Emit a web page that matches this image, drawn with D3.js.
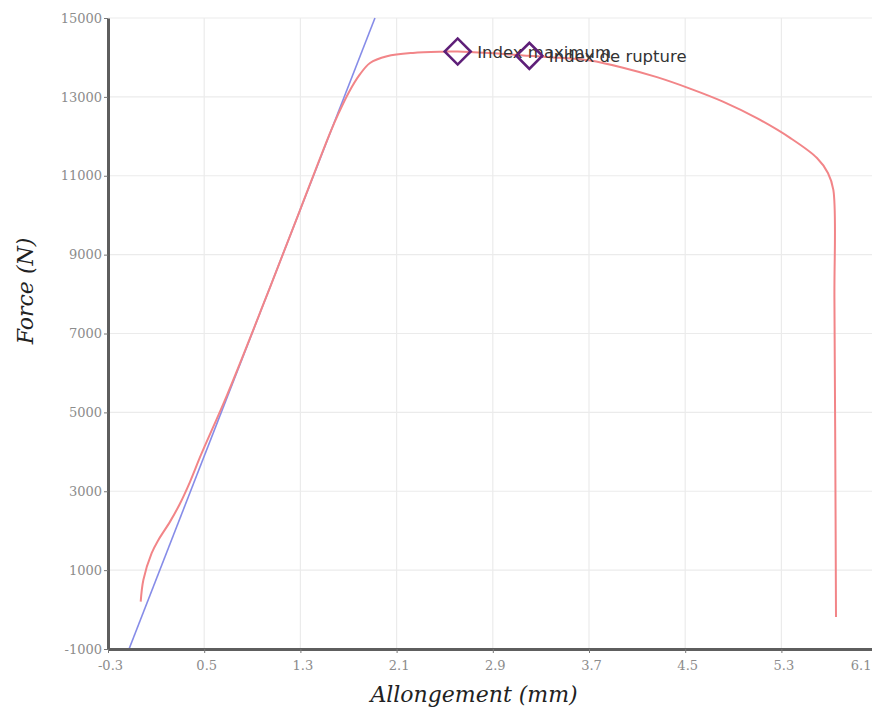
<!DOCTYPE html>
<html>
<head>
<meta charset="utf-8">
<script src="https://cdn.jsdelivr.net/npm/d3@7"></script>
<style>
  html, body { margin: 0; padding: 0; background: #ffffff; }
  svg { display: block; }
</style>
</head>
<body>
<svg id="chart" width="872" height="708"></svg>
<script>
// Tensile test: force vs elongation, with the linear (elastic) fit
const xTicks = [-0.3, 0.5, 1.3, 2.1, 2.9, 3.7, 4.5, 5.3, 6.1];
const yTicks = [-1000, 1000, 3000, 5000, 7000, 9000, 11000, 13000, 15000];

// measured curve (mm, N)
const elongation = [-0.028, -0.006, 0.063, 0.118, 0.216, 0.299, 0.382, 0.473, 0.690, 1.006,
  1.297, 1.546, 1.620, 1.700, 1.790, 1.879, 2.020, 2.236, 2.502, 2.608,
  2.877, 3.204, 3.459, 3.708, 3.983, 4.265, 4.540, 4.814, 5.096, 5.372,
  5.596, 5.687, 5.732, 5.741, 5.748, 5.754];
const force = [200, 750, 1430, 1760, 2230, 2690, 3240, 3920, 5440, 7850,
  10130, 12080, 12600, 13100, 13550, 13860, 14030, 14115, 14145, 14150,
  14110, 14040, 13990, 13920, 13740, 13500, 13210, 12880, 12460, 11960,
  11450, 11070, 10640, 7850, 4050, -190];

// elastic slope line
const fitElongation = [-0.125, 1.92];
const fitForce = [-1000, 15000];

// marked points
const markerNames = ["Index maximum", "Index de rupture"];
const markerElongation = [2.608, 3.204];
const markerForce = [14150, 14040];

const W = 872, H = 708;
const plotLeft = 108, plotTop = 18, plotBottom = 649;
const plotRight = 108 + 8 * 96.2;

const svg = d3.select("#chart");
const x = d3.scaleLinear().domain([-0.3, 6.1]).range([plotLeft, plotRight]);
const y = d3.scaleLinear().domain([-1000, 15000]).range([plotBottom, plotTop]);

// grid
const grid = svg.append("g").attr("stroke", "#ebebeb").attr("stroke-width", 1.2);
grid.selectAll("line.v").data(xTicks.slice(1)).join("line")
  .attr("x1", d => x(d)).attr("x2", d => x(d))
  .attr("y1", plotTop).attr("y2", plotBottom);
grid.selectAll("line.h").data(yTicks.slice(1)).join("line")
  .attr("x1", plotLeft).attr("x2", W)
  .attr("y1", d => y(d)).attr("y2", d => y(d));

svg.append("clipPath").attr("id", "plot")
  .append("rect").attr("x", plotLeft).attr("y", plotTop - 1)
  .attr("width", W - plotLeft).attr("height", plotBottom - plotTop + 1);

// elastic fit line
svg.append("path")
  .attr("clip-path", "url(#plot)")
  .datum(fitElongation.map((d, i) => [d, fitForce[i]]))
  .attr("fill", "none")
  .attr("stroke", "#868ce8")
  .attr("stroke-width", 1.6)
  .attr("d", d3.line().x(d => x(d[0])).y(d => y(d[1])));

// force curve
svg.append("path")
  .datum(elongation.map((d, i) => [d, force[i]]))
  .attr("fill", "none")
  .attr("stroke", "#f28588")
  .attr("stroke-width", 2)
  .attr("d", d3.line().x(d => x(d[0])).y(d => y(d[1])).curve(d3.curveCatmullRom.alpha(0.5)));

// axes
const yAxis = d3.axisLeft(y).tickValues(yTicks).tickFormat(d => String(d))
  .tickSize(4).tickSizeOuter(0).tickPadding(2);
const xAxis = d3.axisBottom(x).tickValues(xTicks).tickFormat(d => String(d))
  .tickSize(4).tickSizeOuter(0).tickPadding(8);

const gy = svg.append("g").attr("transform", `translate(${plotLeft},0)`).call(yAxis);
const gx = svg.append("g").attr("transform", `translate(0,${plotBottom})`).call(xAxis);

[gx, gy].forEach(g => {
  g.select(".domain").attr("stroke", "#5e5e5e").attr("stroke-width", 3);
  g.selectAll(".tick line").attr("stroke", "#777").attr("stroke-width", 1);
  g.selectAll(".tick text")
    .attr("fill", "#8c8c8c")
    .style("font-family", "'DejaVu Serif', serif")
    .style("font-size", "13px");
});
gx.selectAll(".tick text").attr("dx", 2);
// keep the last x label inside the canvas
gx.selectAll(".tick").filter(d => d === xTicks[xTicks.length - 1])
  .select("text").attr("text-anchor", "end").attr("dx", 0)
  .attr("x", W - 1 - x(xTicks[xTicks.length - 1]));

// markers
const mk = svg.append("g");
markerNames.forEach((name, i) => {
  const cx = x(markerElongation[i]), cy = y(markerForce[i]);
  mk.append("path")
    .attr("d", d3.symbol(d3.symbolSquare, 338)())
    .attr("transform", `translate(${cx},${cy}) rotate(45)`)
    .attr("fill", "none")
    .attr("stroke", "#5e1f78")
    .attr("stroke-width", 2.6);
  mk.append("text")
    .attr("x", cx + 19.5).attr("y", cy + 6)
    .attr("fill", "#333")
    .style("font-family", "'DejaVu Sans', sans-serif")
    .style("font-size", "16.5px")
    .text(name);
});

// axis titles
svg.append("text")
  .attr("transform", "translate(33,291) rotate(-90)")
  .attr("text-anchor", "middle")
  .attr("fill", "#222")
  .style("font-family", "'DejaVu Serif', serif")
  .style("font-style", "italic")
  .style("font-size", "22px")
  .text("Force (N)");

svg.append("text")
  .attr("x", 474).attr("y", 702)
  .attr("text-anchor", "middle")
  .attr("fill", "#222")
  .style("font-family", "'DejaVu Serif', serif")
  .style("font-style", "italic")
  .style("font-size", "22px")
  .text("Allongement (mm)");
</script>
</body>
</html>
